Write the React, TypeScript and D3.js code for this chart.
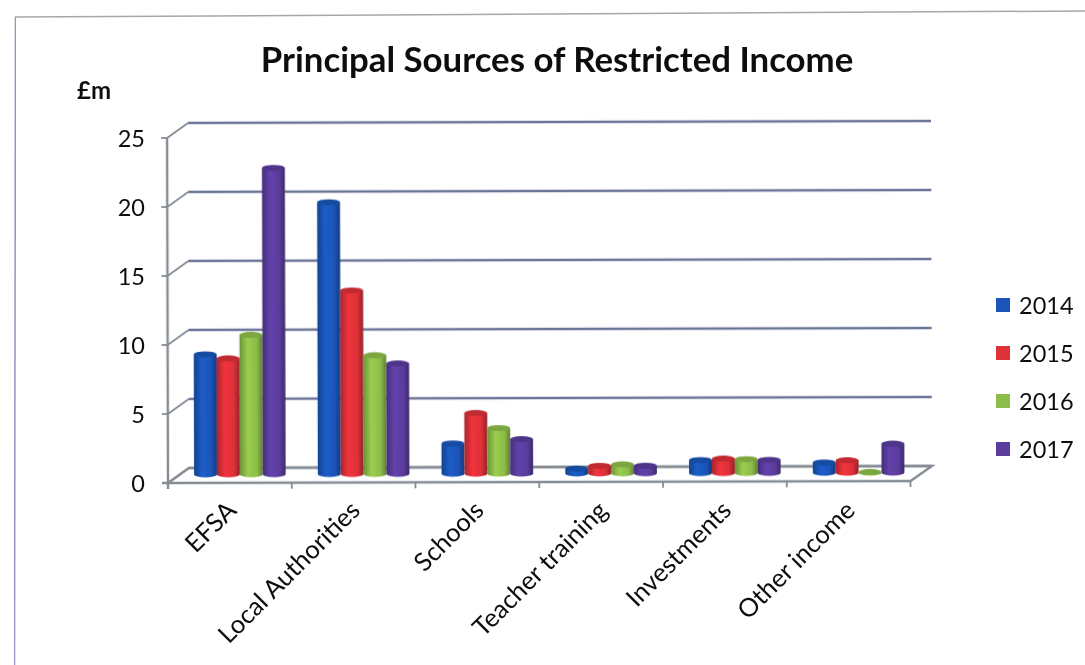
import React from 'react';
import * as d3 from 'd3';

const categories = ['EFSA', 'Local Authorities', 'Schools', 'Teacher training', 'Investments', 'Other income'];
const years = ['2014', '2015', '2016', '2017'];
const values2014 = [8.7, 19.7, 2.2, 0.35, 0.95, 0.75];
const values2015 = [8.4, 13.3, 4.4, 0.55, 1.05, 0.9];
const values2016 = [10.1, 8.6, 3.3, 0.65, 1.0, 0.05];
const values2017 = [22.2, 8.0, 2.5, 0.55, 0.95, 2.1];
const seriesValues = [values2014, values2015, values2016, values2017];
const colors = ['#1a55b8', '#dc3038', '#8cbc48', '#5a3c9c'];
const yTicks = [0, 5, 10, 15, 20, 25];

const width = 1085;
const height = 665;
const fontFamily = 'Lato, "Noto Sans", sans-serif';

// 3D box depth: back wall sits up and to the right of the front axis
const depthX = 21;
const depthY = -15;
const barOffsetX = 10;
const barOffsetY = -8.5;
const capRy = 3;

const x = d3.scaleBand<string>().domain(categories).range([168, 910.5]);
const y = d3.scaleLinear().domain([0, 25]).range([483, 138]);
const groupWidth = x.bandwidth() * 0.74;
const xBar = d3.scaleBand<string>().domain(years).range([0, groupWidth]);
const gridRight = 932;

export default function App() {
  const bw = xBar.bandwidth();
  const axisLine = '#858c94';
  const gridLine = '#6a7498';

  return (
    <svg width={width} height={height} style={{ position: 'absolute', left: 0, top: 0, background: '#fff' }}>
      <defs>
        {colors.map((c, i) => (
          <linearGradient key={c} id={`bar-${i}`} x1="0" x2="1" y1="0" y2="0">
            <stop offset="0" stopColor={d3.rgb(c).darker(0.7).formatHex()} />
            <stop offset="0.35" stopColor={d3.rgb(c).brighter(0.25).formatHex()} />
            <stop offset="0.75" stopColor={c} />
            <stop offset="1" stopColor={d3.rgb(c).darker(1.1).formatHex()} />
          </linearGradient>
        ))}
        <filter id="scan" x="-10%" y="-10%" width="120%" height="120%">
          <feGaussianBlur stdDeviation="0.7" />
        </filter>
        <filter id="scanText" x="-10%" y="-10%" width="120%" height="120%">
          <feGaussianBlur stdDeviation="0.35" />
        </filter>
      </defs>

      {/* scanned frame */}
      <path d="M14.5,665 L15.5,17" fill="none" stroke="#8f93c4" strokeWidth={1.5} filter="url(#scanText)" />
      <path d="M15,17 L1085,11" fill="none" stroke="#a4a8aa" strokeWidth={1.5} filter="url(#scanText)" />

      <g filter="url(#scanText)">
        <text x={557} y={72} textAnchor="middle" fontFamily={fontFamily} fontWeight={700} fontSize={34.8} fill="#111">
          Principal Sources of Restricted Income
        </text>
        <text x={77} y={99} fontFamily={fontFamily} fontWeight={700} fontSize={24} fill="#111">£m</text>
      </g>

      <g transform="rotate(-0.15 168 483)" filter="url(#scan)">
        {/* floor and walls */}
        <path
          d={`M168,${y(0)} L${168 + depthX},${y(0) + depthY} L${gridRight},${y(0) + depthY} L${x.range()[1]},${y(0)}`}
          fill="none"
          stroke={axisLine}
          strokeWidth={2.4}
        />
        {yTicks.map(t => (
          <g key={t}>
            <path
              d={`M${168 + depthX},${y(t) + depthY} L${gridRight},${y(t) + depthY}`}
              stroke={t === 0 ? axisLine : gridLine}
              strokeWidth={2.4}
              fill="none"
            />
            <path d={`M168,${y(t)} L${168 + depthX},${y(t) + depthY}`} stroke={axisLine} strokeWidth={1.8} fill="none" />
            <path d={`M162,${y(t)} L168,${y(t)}`} stroke={axisLine} strokeWidth={1.8} />
          </g>
        ))}
        {/* front axes */}
        <path d={`M168,${y(25)} L168,${y(0) + 6}`} stroke={axisLine} strokeWidth={2.4} fill="none" />
        <path d={`M162,${y(0)} L${x.range()[1]},${y(0)}`} stroke={axisLine} strokeWidth={2.4} fill="none" />
        {categories.map(c => (
          <path key={c} d={`M${(x(c) as number) + x.bandwidth()},${y(0)} v6`} stroke={axisLine} strokeWidth={1.8} />
        ))}

        {/* cylinders */}
        {categories.map((c, ci) => (
          <g key={c}>
            {years.map((yr, si) => {
              const left = (x(c) as number) + (x.bandwidth() - groupWidth) / 2 + barOffsetX + (xBar(yr) as number);
              const top = y(seriesValues[si][ci]) + barOffsetY;
              const base = y(0) + barOffsetY;
              const cx = left + bw / 2;
              return (
                <g key={yr}>
                  <path
                    d={`M${left},${top} L${left},${base} A${bw / 2},${capRy} 0 0 0 ${left + bw},${base} L${left + bw},${top} Z`}
                    fill={`url(#bar-${si})`}
                  />
                  <ellipse cx={cx} cy={top} rx={bw / 2} ry={capRy} fill={d3.rgb(colors[si]).darker(0.35).formatHex()} />
                </g>
              );
            })}
          </g>
        ))}
      </g>

      <g filter="url(#scanText)">
        {yTicks.map(t => (
          <text key={t} x={145} y={y(t) + 9} textAnchor="end" fontFamily={fontFamily} fontSize={23.5} fill="#111">
            {t}
          </text>
        ))}

        {categories.map(c => {
          const lx = (x(c) as number) + x.bandwidth() / 2 + 8;
          return (
            <text
              key={c}
              transform={`translate(${lx},${512}) rotate(-45)`}
              textAnchor="end"
              fontFamily={fontFamily}
              fontSize={25.5}
              fill="#111"
            >
              {c}
            </text>
          );
        })}

        {years.map((yr, i) => (
          <text key={yr} x={1019} y={314 + i * 48} fontFamily={fontFamily} fontSize={23.5} fill="#111">
            {yr}
          </text>
        ))}
      </g>

      {years.map((yr, i) => (
        <rect key={yr} x={996} y={298 + i * 48} width={14} height={14} fill={colors[i]} filter="url(#scan)" />
      ))}
    </svg>
  );
}
